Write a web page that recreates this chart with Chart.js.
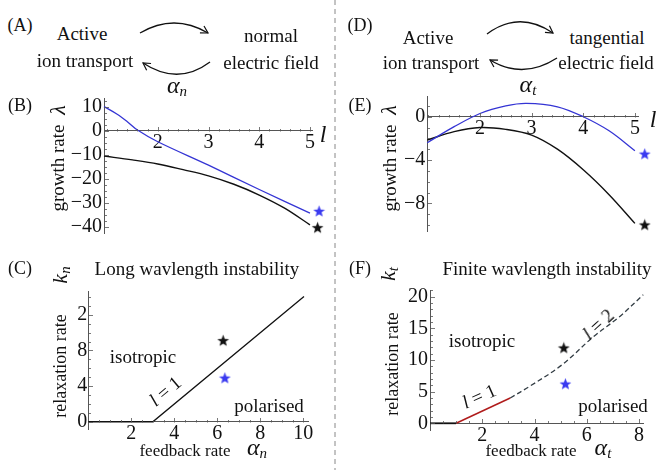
<!DOCTYPE html>
<html>
<head>
<meta charset="utf-8">
<script src="https://cdn.jsdelivr.net/npm/chart.js@4.4.1/dist/chart.umd.min.js"></script>
<style>
  body { margin: 0; background: #fff; }
  #fig { position: relative; width: 663px; height: 470px; overflow: hidden;
         font-family: "Liberation Serif", "Times New Roman", "DejaVu Serif", serif; color: #111; }
  canvas.p { position: absolute; }
  .t { position: absolute; white-space: nowrap; transform: translate(-50%, -50%);
       font-size: 19px; line-height: 1; }
  .lab { font-size: 18px; }
  .ax { font-size: 17px; }
  .m { font-style: italic; font-size: 24px; }
  .m sub { font-size: 15px; vertical-align: -3px; }
  svg { position: absolute; left: 0; top: 0; }
</style>
</head>
<body>
<div id="fig">
  <svg width="663" height="470">
    <defs>
      <marker id="ah" markerWidth="10" markerHeight="10" refX="8" refY="5" orient="auto" markerUnits="userSpaceOnUse">
        <path d="M1,1 L8,5 L1,9" fill="none" stroke="#111" stroke-width="1.2"/>
      </marker>
    </defs>
    <line x1="335" y1="0" x2="335" y2="470" stroke="#888" stroke-width="1" stroke-dasharray="5,4"/>
    <path d="M140,33 Q174,13 208,33" fill="none" stroke="#111" stroke-width="1.3" marker-end="url(#ah)"/>
    <path d="M210,62 Q178,86 143,63" fill="none" stroke="#111" stroke-width="1.3" marker-end="url(#ah)"/>
    <path d="M487,34 Q519,10 553,33" fill="none" stroke="#111" stroke-width="1.3" marker-end="url(#ah)"/>
    <path d="M557,58 Q523,80 490,60" fill="none" stroke="#111" stroke-width="1.3" marker-end="url(#ah)"/>
  </svg>

  <canvas class="p" id="chartB"></canvas>
  <canvas class="p" id="chartE"></canvas>
  <canvas class="p" id="chartC"></canvas>
  <canvas class="p" id="chartF"></canvas>

  <!-- diagrams -->
  <div class="t lab" style="left:20px;top:25px">(A)</div>
  <div class="t" style="left:82px;top:33px">Active</div>
  <div class="t" style="left:85px;top:60px">ion transport</div>
  <div class="t" style="left:271px;top:35px">normal</div>
  <div class="t" style="left:271px;top:62px">electric field</div>
  <div class="t m" style="left:177px;top:86px">α<sub>n</sub></div>

  <div class="t lab" style="left:360px;top:25px">(D)</div>
  <div class="t" style="left:428px;top:37px">Active</div>
  <div class="t" style="left:431px;top:62px">ion transport</div>
  <div class="t" style="left:607px;top:37px">tangential</div>
  <div class="t" style="left:606px;top:62px">electric field</div>
  <div class="t m" style="left:528px;top:85px">α<sub>t</sub></div>

  <!-- B / E -->
  <div class="t lab" style="left:20px;top:105px">(B)</div>
  <div class="t" style="left:57px;top:168px;transform:translate(-50%,-50%) rotate(-90deg)">growth rate</div>
  <div class="t m" style="left:58px;top:110px;font-size:22px;transform:translate(-50%,-50%) rotate(-90deg)">λ</div>
  <div class="t m" style="left:323px;top:134px">l</div>

  <div class="t lab" style="left:360px;top:105px">(E)</div>
  <div class="t" style="left:389px;top:168px;transform:translate(-50%,-50%) rotate(-90deg)">growth rate</div>
  <div class="t m" style="left:389px;top:110px;font-size:22px;transform:translate(-50%,-50%) rotate(-90deg)">λ</div>
  <div class="t m" style="left:653px;top:119px">l</div>

  <!-- C / F -->
  <div class="t lab" style="left:20px;top:268px">(C)</div>
  <div class="t" style="left:197px;top:268px">Long wavlength instability</div>
  <div class="t ax" style="left:60px;top:366px;font-size:18px;transform:translate(-50%,-50%) rotate(-90deg)">relaxation rate</div>
  <div class="t m" style="left:61px;top:275px;font-size:22px;transform:translate(-50%,-50%) rotate(-90deg)">k<sub>n</sub></div>
  <div class="t ax" style="left:185px;top:450px">feedback rate</div>
  <div class="t m" style="left:257px;top:448px">α<sub>n</sub></div>
  <div class="t" style="left:143px;top:356px">isotropic</div>
  <div class="t" style="left:269px;top:405px">polarised</div>
  <div class="t" style="left:165px;top:391px;transform:translate(-50%,-50%) rotate(-40deg)"><i>l</i> = 1</div>

  <div class="t lab" style="left:360px;top:268px">(F)</div>
  <div class="t" style="left:547px;top:268px">Finite wavlength instability</div>
  <div class="t ax" style="left:392px;top:364px;font-size:18px;transform:translate(-50%,-50%) rotate(-90deg)">relaxation rate</div>
  <div class="t m" style="left:389px;top:274px;font-size:22px;transform:translate(-50%,-50%) rotate(-90deg)">k<sub>t</sub></div>
  <div class="t ax" style="left:531px;top:450px">feedback rate</div>
  <div class="t m" style="left:603px;top:448px">α<sub>t</sub></div>
  <div class="t" style="left:482px;top:340px">isotropic</div>
  <div class="t" style="left:613px;top:405px">polarised</div>
  <div class="t" style="left:479px;top:396px;transform:translate(-50%,-50%) rotate(-24deg)"><i>l</i> = 1</div>
  <div class="t" style="left:598px;top:324px;transform:translate(-50%,-50%) rotate(-42deg)"><i>l</i> = 2</div>
</div>

<script>
// ---------- data ----------
// (B) growth rate vs l, normal field
const bBlueL   = [0.94, 1.2, 1.4, 1.6, 2, 3, 4, 5];
const bBlueVal = [10.2, 7.0, 3.9, 0.4, -4.5, -14.3, -24.5, -34.4];
const bBlackL   = [0.94, 1.5, 2, 2.5, 3, 3.5, 4, 4.5, 5];
const bBlackVal = [-10.5, -12.1, -13.8, -16.2, -18.8, -22.3, -26.8, -32.3, -39.3];
const bStarL   = [5.18, 5.15];     // blue, black
const bStarVal = [-33.6, -40.5];

// (E) growth rate vs l, tangential field
const eBlueL   = [0.98, 1.5, 2, 2.5, 2.9, 3.5, 4, 4.5, 5];
const eBlueVal = [-2.4, -0.92, 0.3, 1.0, 1.23, 0.92, 0.0, -1.3, -3.14];
const eBlackL   = [0.98, 1.5, 2, 2.5, 3, 3.5, 4, 4.5, 5];
const eBlackVal = [-2.15, -1.38, -1.0, -1.17, -1.7, -3.0, -4.9, -7.2, -9.85];
const eStarL   = [5.19, 5.19];
const eStarVal = [-3.45, -10.0];

// (C) phase boundary, long wavelength
const cAlpha = [0, 3, 10.03];
const cK     = [0, 0, 14.06];
const cStarA = [6.35, 6.27];
const cStarK = [4.9, 9.1];

// (F) phase boundary, finite wavelength
const fAxisA  = [0, 1];
const fAxisK  = [0, 0];
const fL1A    = [1, 3.07];
const fL1K    = [0, 4.0];
const fL2A    = [3.07, 3.8, 5.04, 6.26, 7.24, 8.16];
const fL2K    = [4.0, 5.8, 9.2, 13.7, 16.8, 20.3];
const fStarA  = [5.18, 5.12];
const fStarK  = [6.2, 11.9];

// tick labels
const bXTicks = [2, 3, 4, 5],          bXLabels = ['2', '3', '4', '5'];
const bYTicks = [10, 0, -10, -20, -30, -40];
const bYLabels = ['10', '0', '\u221210', '\u221220', '\u221230', '\u221240'];
const eXTicks = [2, 3, 4, 5],          eXLabels = ['2', '3', '4', '5'];
const eYTicks = [0, -4, -8],           eYLabels = ['0', '\u22124', '\u22128'];
const cXTicks = [2, 4, 6, 8, 10],      cXLabels = ['2', '4', '6', '8', '10'];
const cYTicks = [0, 4, 8, 12],         cYLabels = ['0', '4', '8', '2'];
const fXTicks = [2, 4, 6, 8],          fXLabels = ['2', '4', '6', '8'];
const fYTicks = [0, 5, 10, 15, 20],    fYLabels = ['0', '5', '10', '15', '20'];

// ---------- helpers ----------
const FONT = '"Liberation Serif", "Times New Roman", "DejaVu Serif", serif';
const BLUE = '#3434d4';
const BLUE_STAR = '#3a3af0';

function pts(xs, ys) { return xs.map((x, i) => ({x: x, y: ys[i]})); }

function range(a, b, step) {
  const out = [];
  for (let i = 0; a + i * step <= b + 1e-9; i++) out.push(+(a + i * step).toFixed(4));
  return out;
}

function starImg(color) {
  const c = document.createElement('canvas');
  c.width = 13; c.height = 13;
  const g = c.getContext('2d');
  g.fillStyle = color;
  g.beginPath();
  for (let i = 0; i < 10; i++) {
    const r = i % 2 ? 2.6 : 6.2;
    const a = -Math.PI / 2 + i * Math.PI / 5;
    g.lineTo(6.5 + r * Math.cos(a), 6.8 + r * Math.sin(a));
  }
  g.closePath();
  g.fill();
  return c;
}
const starBlack = starImg('#111');
const starBlue = starImg(BLUE_STAR);

function curve(data, color, width, opts) {
  return Object.assign({data: data, showLine: true, borderColor: color, borderWidth: width,
          pointRadius: 0, tension: 0.35, clip: false}, opts || {});
}
// big radius only widens the "inside the plot" margin, the image keeps its size
function star(x, y, img) {
  return {data: [{x: x, y: y}], pointStyle: img, pointRadius: 20, pointBorderWidth: 0,
          showLine: false, clip: false};
}

// Mathematica-like small ticks drawn inwards from the axes
const innerTicks = {
  id: 'innerTicks',
  afterDraw(chart) {
    const ctx = chart.ctx, xs = chart.scales.x, ys = chart.scales.y;
    const y0 = Math.round(ys.getPixelForValue(0)) + 0.5;
    const x0 = Math.round(chart.chartArea.left) + 0.5;
    ctx.save();
    ctx.strokeStyle = '#555';
    ctx.lineWidth = 0.8;
    ctx.beginPath();
    xs.ticks.forEach(t => {
      const px = Math.round(xs.getPixelForValue(t.value)) + 0.5;
      const len = t.label ? 4.5 : 2.5;
      ctx.moveTo(px, y0); ctx.lineTo(px, y0 - len);
    });
    ys.ticks.forEach(t => {
      const py = Math.round(ys.getPixelForValue(t.value)) + 0.5;
      const len = t.label ? 4.5 : 2.5;
      ctx.moveTo(x0, py); ctx.lineTo(x0 + len, py);
    });
    ctx.stroke();
    ctx.restore();
  }
};

function axis(min, max, minor, major, labels, pad, extra) {
  return Object.assign({
    type: 'linear', min: min, max: max,
    grid: {display: false, drawTicks: false},
    border: {display: true, color: '#555', width: 1},
    afterBuildTicks: s => { s.ticks = minor.map(v => ({value: v})); },
    ticks: {
      autoSkip: false, maxRotation: 0, minRotation: 0, padding: pad, color: '#111',
      font: {family: FONT, size: 20},
      callback: v => {
        const i = major.findIndex(m => Math.abs(m - v) < 1e-6);
        return i < 0 ? '' : labels[i];
      }
    }
  }, extra);
}

// box: [left, top, width, height] of canvas; area: [left, top, right, bottom] of plot area
function panel(id, box, area, xAxis, yAxis, datasets) {
  const cv = document.getElementById(id);
  cv.width = box[2]; cv.height = box[3];
  cv.style.left = box[0] + 'px'; cv.style.top = box[1] + 'px';
  yAxis.afterFit = s => { s.width = area[0] - box[0]; };
  xAxis.position = {y: 0};
  return new Chart(cv, {
    type: 'scatter',
    data: {datasets: datasets},
    options: {
      responsive: false,
      animation: false,
      layout: {padding: {left: 0, top: area[1] - box[1],
                         right: box[0] + box[2] - area[2],
                         bottom: box[1] + box[3] - area[3]}},
      plugins: {legend: {display: false}, tooltip: {enabled: false}},
      scales: {x: xAxis, y: yAxis}
    },
    plugins: [innerTicks]
  });
}

// ---------- panels ----------
panel('chartB', [0, 70, 340, 190], [104, 98, 312, 233],
  axis(0.94, 5.04, range(1, 5, 0.2), bXTicks, bXLabels, 0),
  axis(-42.7, 13.8, range(-40, 12.5, 2.5), bYTicks, bYLabels, 2, {position: 'left'}),
  [
    curve(pts(bBlueL, bBlueVal), BLUE, 1.3),
    curve(pts(bBlackL, bBlackVal), '#111', 1.4),
    star(bStarL[0], bStarVal[0], starBlue),
    star(bStarL[1], bStarVal[1], starBlack)
  ]);

panel('chartE', [335, 70, 328, 190], [427.3, 96.7, 638, 231.7],
  axis(0.98, 5.06, range(1, 5, 0.2), eXTicks, eXLabels, 0),
  axis(-10.62, 1.85, range(-10, 1, 1), eYTicks, eYLabels, 2, {position: 'left'}),
  [
    curve(pts(eBlueL, eBlueVal), BLUE, 1.3),
    curve(pts(eBlackL, eBlackVal), '#111', 1.4),
    star(eStarL[0], eStarVal[0], starBlue),
    star(eStarL[1], eStarVal[1], starBlack)
  ]);

panel('chartC', [0, 265, 335, 205], [88.3, 291.7, 308.3, 429.3],
  axis(0, 10.23, range(0.5, 10, 0.5), cXTicks, cXLabels, 0),
  axis(-0.85, 14.6, range(0, 14, 1), cYTicks, cYLabels, 1, {position: 'left'}),
  [
    curve(pts(cAlpha, cK), '#111', 1.3, {tension: 0}),
    star(cStarA[0], cStarK[0], starBlue),
    star(cStarA[1], cStarK[1], starBlack)
  ]);

panel('chartF', [335, 265, 328, 205], [430, 290, 651.7, 430],
  axis(0, 8.15, range(0.5, 8, 0.5), fXTicks, fXLabels, 0),
  axis(-1.06, 21.05, range(0, 21, 1), fYTicks, fYLabels, 2, {position: 'left'}),
  [
    curve(pts(fAxisA, fAxisK), '#111', 1.8, {tension: 0}),
    curve(pts(fL1A, fL1K), '#b01c1c', 1.5, {tension: 0}),
    curve(pts(fL2A, fL2K), '#333d44', 1.3, {borderDash: [5, 3]}),
    star(fStarA[0], fStarK[0], starBlue),
    star(fStarA[1], fStarK[1], starBlack)
  ]);
</script>
</body>
</html>
